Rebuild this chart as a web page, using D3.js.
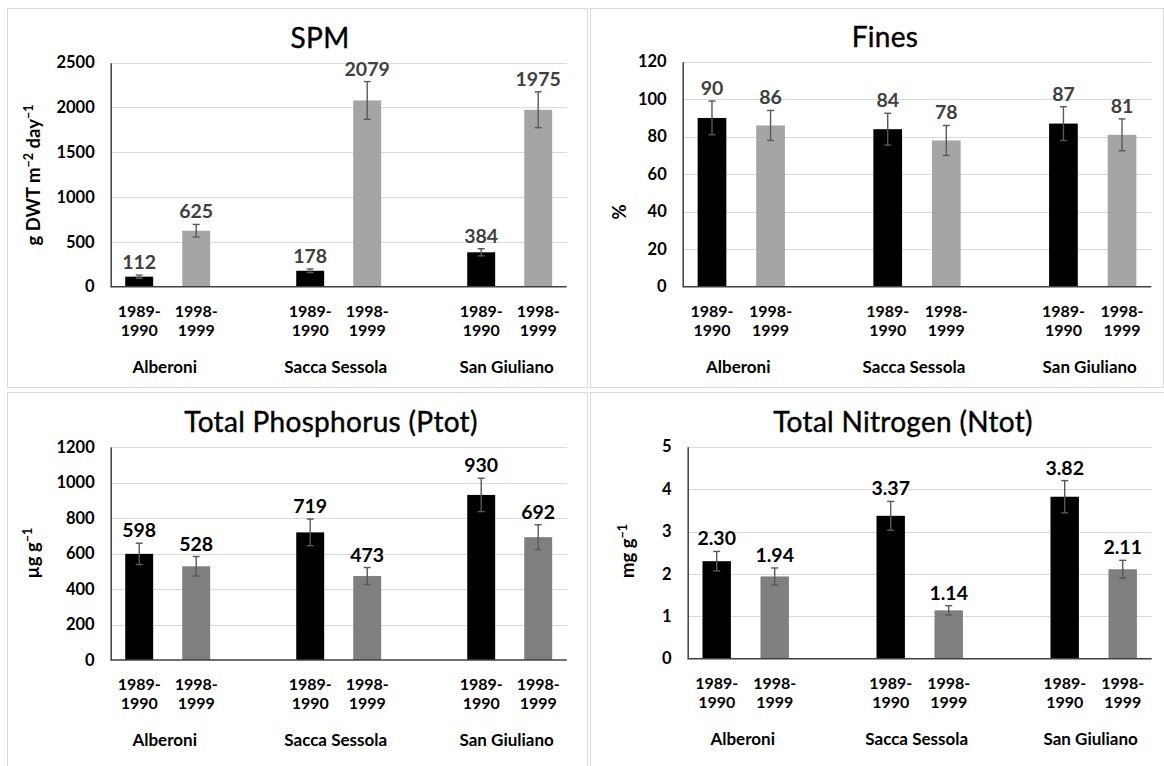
<!DOCTYPE html>
<html>
<head>
<meta charset="utf-8">
<script src="https://cdn.jsdelivr.net/npm/d3@7"></script>
<style>
  body { margin: 0; background: #fff; }
  svg { display: block; font-family: Lato, "Open Sans", sans-serif; }
</style>
</head>
<body>
<svg id="svg" width="1164" height="766"></svg>
<script>
// categories
var sites = ["Alberoni", "Sacca Sessola", "San Giuliano"];
var periods = [["1989-", "1990"], ["1998-", "1999"]];

// values in order: site1 89-90, site1 98-99, site2 ..., site3 ...
var spmValues = [112, 625, 178, 2079, 384, 1975];
var spmErrors = [18, 70, 20, 210, 40, 200];
var spmTicks = [0, 500, 1000, 1500, 2000, 2500];

var finesValues = [90, 86, 84, 78, 87, 81];
var finesErrors = [9, 8, 8.5, 8, 9, 8.5];
var finesTicks = [0, 20, 40, 60, 80, 100, 120];

var ptotValues = [598, 528, 719, 473, 930, 692];
var ptotErrors = [60, 55, 75, 48, 94, 70];
var ptotTicks = [0, 200, 400, 600, 800, 1000, 1200];

var ntotValues = [2.30, 1.94, 3.37, 1.14, 3.82, 2.11];
var ntotErrors = [0.23, 0.2, 0.34, 0.11, 0.38, 0.21];
var ntotTicks = [0, 1, 2, 3, 4, 5];

var svg = d3.select("#svg");

var panels = [
  {title: "SPM", values: spmValues, errors: spmErrors, ticks: spmTicks, fmt: d3.format("d"),
   box: [7, 8, 580, 379], left: 110.7, right: 566.7, top: 62.7, bottom: 286.7,
   titleX: 320, yTitleX: 40, yTitleY: 175, gray: "#a5a5a5", labelColor: "#404040",
   yTitle: [["g DWT m", 0], ["\u22122", 1], [" day", 0], ["\u22121", 1]]},
  {title: "Fines", values: finesValues, errors: finesErrors, ticks: finesTicks, fmt: d3.format("d"),
   box: [590, 8, 573, 379], left: 682.7, right: 1151.3, top: 61.7, bottom: 286.7,
   titleX: 885, yTitleX: 626, yTitleY: 212, gray: "#a5a5a5", labelColor: "#404040",
   yTitle: [["%", 0]]},
  {title: "Total Phosphorus (Ptot)", values: ptotValues, errors: ptotErrors, ticks: ptotTicks, fmt: d3.format("d"),
   box: [7, 392, 580, 380], left: 110.7, right: 566.7, top: 447, bottom: 660,
   titleX: 331, yTitleX: 39, yTitleY: 553, gray: "#7f7f7f", labelColor: "#000",
   yTitle: [["\u00b5g g", 0], ["\u22121", 1]]},
  {title: "Total Nitrogen (Ntot)", values: ntotValues, errors: ntotErrors, ticks: ntotTicks, fmt: d3.format(".2f"),
   box: [590, 392, 580, 380], left: 687.7, right: 1151.7, top: 446.7, bottom: 658.7,
   titleX: 903, yTitleX: 634, yTitleY: 551, gray: "#7f7f7f", labelColor: "#000",
   yTitle: [["mg g", 0], ["\u22121", 1]]}
];

panels.forEach(drawPanel);

function drawPanel(p) {
  var g = svg.append("g");

  g.append("rect")
    .attr("x", p.box[0] + 0.5).attr("y", p.box[1] + 0.5)
    .attr("width", p.box[2]).attr("height", p.box[3])
    .attr("fill", "#fff").attr("stroke", "#d9d9d9").attr("stroke-width", 1);

  // 8 slots: two bars per site with one empty slot between sites
  var x = d3.scaleBand().domain(d3.range(8)).range([p.left, p.right]).padding(0);
  var y = d3.scaleLinear().domain([0, d3.max(p.ticks)]).range([p.bottom, p.top]);
  var slotOf = function(i) { return Math.floor(i / 2) * 3 + (i % 2); };
  var barW = x.bandwidth() * 0.49;

  // gridlines
  g.append("g").selectAll("line")
    .data(p.ticks.slice(1))
    .enter().append("line")
    .attr("x1", p.left).attr("x2", p.right)
    .attr("y1", function(d) { return Math.round(y(d)) + 0.5; })
    .attr("y2", function(d) { return Math.round(y(d)) + 0.5; })
    .attr("stroke", "#d9d9d9").attr("stroke-width", 1.2);

  // y axis
  var yAxis = g.append("g")
    .attr("transform", "translate(" + p.left + ",0)")
    .call(d3.axisLeft(y).tickValues(p.ticks).tickSize(0).tickPadding(16).tickFormat(d3.format("d")));
  yAxis.select(".domain").attr("stroke", "#404040").attr("stroke-width", 1.5);
  yAxis.selectAll("text")
    .attr("font-family", "Lato, 'Open Sans', sans-serif")
    .attr("font-size", 16.5).attr("font-weight", "bold").attr("fill", "#000");

  // bars
  g.append("g").selectAll("rect")
    .data(p.values)
    .enter().append("rect")
    .attr("x", function(d, i) { return x(slotOf(i)) + (x.bandwidth() - barW) / 2; })
    .attr("y", function(d) { return y(d); })
    .attr("width", barW)
    .attr("height", function(d) { return p.bottom - y(d); })
    .attr("fill", function(d, i) { return i % 2 === 0 ? "#000" : p.gray; });

  // error bars
  var eb = g.append("g").attr("stroke", "#595959").attr("stroke-width", 1.4);
  p.values.forEach(function(v, i) {
    var cx = x(slotOf(i)) + x.bandwidth() / 2;
    var e = p.errors[i];
    eb.append("line").attr("x1", cx).attr("x2", cx).attr("y1", y(v + e)).attr("y2", y(v - e));
    eb.append("line").attr("x1", cx - 3.5).attr("x2", cx + 3.5).attr("y1", y(v + e)).attr("y2", y(v + e));
    eb.append("line").attr("x1", cx - 3.5).attr("x2", cx + 3.5).attr("y1", y(v - e)).attr("y2", y(v - e));
  });

  // x baseline
  g.append("line")
    .attr("x1", p.left).attr("x2", p.right)
    .attr("y1", p.bottom).attr("y2", p.bottom)
    .attr("stroke", "#404040").attr("stroke-width", 1.5);

  // data labels
  g.append("g").selectAll("text")
    .data(p.values)
    .enter().append("text")
    .attr("x", function(d, i) { return x(slotOf(i)) + x.bandwidth() / 2; })
    .attr("y", function(d, i) { return y(d + p.errors[i]) - 6; })
    .attr("text-anchor", "middle")
    .attr("font-size", 19.5).attr("font-weight", "bold")
    .attr("fill", p.labelColor)
    .text(function(d) { return p.fmt(d); });

  // period labels
  p.values.forEach(function(v, i) {
    var cx = x(slotOf(i)) + x.bandwidth() / 2;
    var t = g.append("text").attr("text-anchor", "middle")
      .attr("font-size", 16).attr("font-weight", "bold").attr("fill", "#000");
    t.append("tspan").attr("x", cx).attr("y", p.bottom + 30).text(periods[i % 2][0]);
    t.append("tspan").attr("x", cx).attr("y", p.bottom + 49).text(periods[i % 2][1]);
  });

  // site labels
  g.append("g").selectAll("text")
    .data(sites)
    .enter().append("text")
    .attr("x", function(d, k) { return x(k * 3 + 1) - 3; })
    .attr("y", p.bottom + 86)
    .attr("text-anchor", "middle")
    .attr("font-size", 17).attr("font-weight", "bold").attr("fill", "#000")
    .text(function(d) { return d; });

  // title
  g.append("text")
    .attr("x", p.titleX).attr("y", p.top - 15)
    .attr("text-anchor", "middle")
    .attr("font-size", 28).attr("letter-spacing", 0.3).attr("fill", "#000")
    .attr("stroke", "#000").attr("stroke-width", 0.4)
    .text(p.title);

  // y axis title
  var yt = g.append("text")
    .attr("transform", "translate(" + p.yTitleX + "," + p.yTitleY + ") rotate(-90)")
    .attr("text-anchor", "middle")
    .attr("font-size", 18.5).attr("font-weight", "bold").attr("fill", "#000");
  p.yTitle.forEach(function(part) {
    var ts = yt.append("tspan").text(part[0]);
    if (part[1]) ts.attr("font-size", 12.5).attr("baseline-shift", "super");
  });
}
</script>
</body>
</html>
